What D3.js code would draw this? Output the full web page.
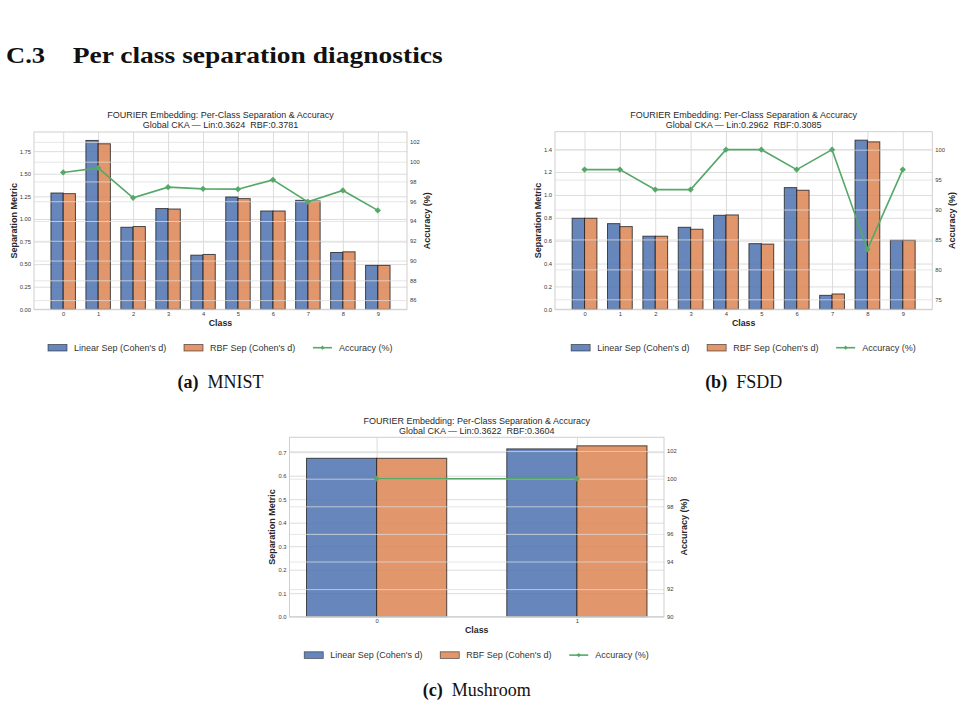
<!DOCTYPE html>
<html><head><meta charset="utf-8">
<script src="https://cdn.jsdelivr.net/npm/d3@7"></script>
<style>body{margin:0;background:#fff}svg{display:block}</style>
</head><body>
<svg id="chart" width="962" height="705"></svg>
<script>
// ---------------- DATA ----------------
const classesMNIST = ["0","1","2","3","4","5","6","7","8","9"];
const linearMNIST  = [1.287, 1.869, 0.908, 1.115, 0.599, 1.243, 1.088, 1.206, 0.629, 0.486];
const rbfMNIST     = [1.280, 1.832, 0.916, 1.110, 0.607, 1.225, 1.088, 1.199, 0.636, 0.486];
const accMNIST     = [98.91, 99.37, 96.34, 97.42, 97.25, 97.22, 98.16, 95.94, 97.09, 95.07];
const leftTicksMNIST  = [0, 0.25, 0.5, 0.75, 1.0, 1.25, 1.5, 1.75];
const rightTicksMNIST = [86, 88, 90, 92, 94, 96, 98, 100, 102];

const classesFSDD = ["0","1","2","3","4","5","6","7","8","9"];
const linearFSDD  = [0.796, 0.749, 0.639, 0.717, 0.822, 0.574, 1.064, 0.122, 1.479, 0.604];
const rbfFSDD     = [0.796, 0.723, 0.639, 0.700, 0.825, 0.570, 1.041, 0.134, 1.464, 0.604];
const accFSDD     = [96.67, 96.67, 93.33, 93.33, 100, 100, 96.67, 100, 83.33, 96.67];
const leftTicksFSDD  = [0, 0.2, 0.4, 0.6, 0.8, 1.0, 1.2, 1.4];
const rightTicksFSDD = [75, 80, 85, 90, 95, 100];

const classesMush = ["0","1"];
const linearMush  = [0.674, 0.714];
const rbfMush     = [0.674, 0.727];
const accMush     = [100, 100];
const leftTicksMush  = [0, 0.1, 0.2, 0.3, 0.4, 0.5, 0.6, 0.7];
const rightTicksMush = [90, 92, 94, 96, 98, 100, 102];

const titleLine1 = "FOURIER Embedding: Per-Class Separation & Accuracy";
const ckaLines = ["Global CKA — Lin:0.3624  RBF:0.3781",
                  "Global CKA — Lin:0.2962  RBF:0.3085",
                  "Global CKA — Lin:0.3622  RBF:0.3604"];
const legendLabels = ["Linear Sep (Cohen's d)", "RBF Sep (Cohen's d)", "Accuracy (%)"];
const captionTags = ["(a)", "(b)", "(c)"];
const captionNames = ["MNIST", "FSDD", "Mushroom"];
const headingNum = "C.3";
const headingText = "Per class separation diagnostics";

// ---------------- STYLE ----------------
const BLUE = "#4C72B0", ORANGE = "#DD8452", GREEN = "#55A868";
const SANS = "'Liberation Sans', Arial, sans-serif";
const SERIF = "'Liberation Serif', 'Times New Roman', serif";
const svg = d3.select("#chart");

svg.append("text").attr("x", 6).attr("y", 63.3)
  .attr("font-family", SERIF).attr("font-weight", "bold").attr("font-size", 24)
  .attr("textLength", 39).attr("lengthAdjust", "spacingAndGlyphs")
  .attr("fill", "#111").text(headingNum);
svg.append("text").attr("x", 72.7).attr("y", 63.3)
  .attr("font-family", SERIF).attr("font-weight", "bold").attr("font-size", 24)
  .attr("textLength", 370).attr("lengthAdjust", "spacingAndGlyphs")
  .attr("fill", "#111").text(headingText);

const panels = [
  {classes: classesMNIST, linear: linearMNIST, rbf: rbfMNIST, acc: accMNIST,
   lt: leftTicksMNIST, rt: rightTicksMNIST, lfmt: ".2f", cka: ckaLines[0], tag: captionTags[0], name: captionNames[0],
   left: 34, right: 407, top: 132, bottom: 309.3, ylabX: 14.3},
  {classes: classesFSDD, linear: linearFSDD, rbf: rbfFSDD, acc: accFSDD,
   lt: leftTicksFSDD, rt: rightTicksFSDD, lfmt: ".1f", cka: ckaLines[1], tag: captionTags[1], name: captionNames[1],
   left: 555, right: 932.3, top: 131.7, bottom: 309.3, ylabX: 538.3},
  {classes: classesMush, linear: linearMush, rbf: rbfMush, acc: accMush,
   lt: leftTicksMush, rt: rightTicksMush, lfmt: ".1f", cka: ckaLines[2], tag: captionTags[2], name: captionNames[2],
   left: 289.5, right: 664, top: 437.3, bottom: 616.7, ylabX: 272.3}
];

function diamond(size){ return d3.symbol().type(d3.symbolSquare).size(size)(); }

function drawPanel(p){
  const g = svg.append("g");
  const n = p.classes.length;
  const span = n - 1 + 0.7;
  const x = d3.scaleLinear().domain([-0.35 - 0.05*span, n - 1 + 0.35 + 0.05*span]).range([p.left, p.right]);
  const maxSep = d3.max(p.linear.concat(p.rbf));
  const yL = d3.scaleLinear().domain([0, maxSep*1.05]).range([p.bottom, p.top]);
  const yR = d3.scaleLinear().domain([d3.min(p.acc) - 10, 103]).range([p.bottom, p.top]);
  const W = p.right - p.left, H = p.bottom - p.top;
  const bw = x(0.35) - x(0);
  const idx = d3.range(n);

  // left horizontal grid
  const gl = g.append("g").attr("transform", `translate(${p.left},0)`)
    .call(d3.axisLeft(yL).tickValues(p.lt).tickSize(-W).tickFormat(""));
  gl.select(".domain").remove();
  gl.selectAll("line").attr("stroke", "#dcdcdc").attr("stroke-width", 1);
  // vertical grid
  const gv = g.append("g").attr("transform", `translate(0,${p.bottom})`)
    .call(d3.axisBottom(x).tickValues(idx).tickSize(-H).tickFormat(""));
  gv.select(".domain").remove();
  gv.selectAll("line").attr("stroke", "#dcdcdc").attr("stroke-width", 1);

  // bars
  g.append("g").selectAll("rect").data(p.linear).join("rect")
    .attr("x", (d,i) => x(i) - bw).attr("y", d => yL(d))
    .attr("width", bw).attr("height", d => yL(0) - yL(d))
    .attr("fill", BLUE).attr("fill-opacity", 0.85)
    .attr("stroke", "#222").attr("stroke-opacity", 0.8).attr("stroke-width", 1);
  g.append("g").selectAll("rect").data(p.rbf).join("rect")
    .attr("x", (d,i) => x(i)).attr("y", d => yL(d))
    .attr("width", bw).attr("height", d => yL(0) - yL(d))
    .attr("fill", ORANGE).attr("fill-opacity", 0.85)
    .attr("stroke", "#222").attr("stroke-opacity", 0.8).attr("stroke-width", 1);

  // right horizontal grid (twin axes, drawn above bars)
  const gr = g.append("g").attr("transform", `translate(${p.right},0)`)
    .call(d3.axisRight(yR).tickValues(p.rt).tickSize(-W).tickFormat(""));
  gr.select(".domain").remove();
  gr.selectAll("line").attr("stroke", "#dddddd").attr("stroke-opacity", 0.75).attr("stroke-width", 1);

  // frame
  g.append("rect").attr("x", p.left).attr("y", p.top).attr("width", W).attr("height", H)
    .attr("fill", "none").attr("stroke", "#cfcfcf").attr("stroke-width", 1);

  // accuracy line
  g.append("path").datum(p.acc)
    .attr("d", d3.line().x((d,i) => x(i)).y(d => yR(d)))
    .attr("fill", "none").attr("stroke", GREEN).attr("stroke-width", 1.6);
  g.append("g").selectAll("path").data(p.acc).join("path")
    .attr("d", diamond(20))
    .attr("transform", (d,i) => `translate(${x(i)},${yR(d)}) rotate(45)`)
    .attr("fill", GREEN);

  // tick labels
  const axL = g.append("g").attr("transform", `translate(${p.left},0)`)
    .call(d3.axisLeft(yL).tickValues(p.lt).tickSize(0).tickPadding(3).tickFormat(d3.format(p.lfmt)));
  const axR = g.append("g").attr("transform", `translate(${p.right},0)`)
    .call(d3.axisRight(yR).tickValues(p.rt).tickSize(0).tickPadding(3).tickFormat(d3.format("d")));
  const axB = g.append("g").attr("transform", `translate(0,${p.bottom})`)
    .call(d3.axisBottom(x).tickValues(idx).tickSize(0).tickPadding(2.5).tickFormat(i => p.classes[i]));
  [axL, axR, axB].forEach(a => {
    a.select(".domain").remove();
    a.attr("font-family", SANS).attr("font-size", 5.8);
    a.selectAll("text").attr("fill", "#3a3a3a");
  });

  const cx = (p.left + p.right) / 2, cy = (p.top + p.bottom) / 2;
  // titles
  g.append("text").attr("x", cx).attr("y", p.top - 16.7).attr("dy", "0.35em")
    .attr("text-anchor", "middle").attr("font-family", SANS).attr("font-size", 9)
    .attr("fill", "#2a2a2a").text(titleLine1);
  g.append("text").attr("x", cx).attr("y", p.top - 6.7).attr("dy", "0.35em")
    .attr("text-anchor", "middle").attr("font-family", SANS).attr("font-size", 9)
    .attr("fill", "#2a2a2a").style("white-space", "pre").text(p.cka);
  // axis labels
  g.append("text").attr("transform", `translate(${p.ylabX},${cy}) rotate(-90)`).attr("dy", "0.35em")
    .attr("text-anchor", "middle").attr("font-family", SANS).attr("font-size", 9).attr("font-weight", "bold")
    .attr("fill", "#262626").text("Separation Metric");
  g.append("text").attr("transform", `translate(${p.right + 20},${cy}) rotate(-90)`).attr("dy", "0.35em")
    .attr("text-anchor", "middle").attr("font-family", SANS).attr("font-size", 9).attr("font-weight", "bold")
    .attr("fill", "#262626").text("Accuracy (%)");
  g.append("text").attr("x", cx).attr("y", p.bottom + 13.5).attr("dy", "0.35em")
    .attr("text-anchor", "middle").attr("font-family", SANS).attr("font-size", 8.8).attr("font-weight", "bold")
    .attr("fill", "#262626").text("Class");

  // legend
  const ly = p.bottom + 38.4;
  const lg = g.append("g");
  const patchX = [cx - 172.5, cx - 36.5];
  const patchCol = [BLUE, ORANGE];
  lg.selectAll("rect").data(patchX).join("rect")
    .attr("x", d => d).attr("y", ly - 3.3).attr("width", 19).attr("height", 6.6)
    .attr("fill", (d,i) => patchCol[i]).attr("fill-opacity", 0.85)
    .attr("stroke", "#222").attr("stroke-opacity", 0.7).attr("stroke-width", 0.8);
  lg.append("line").attr("x1", cx + 92.5).attr("x2", cx + 111.5).attr("y1", ly).attr("y2", ly)
    .attr("stroke", GREEN).attr("stroke-width", 1.6);
  lg.append("path").attr("d", diamond(9))
    .attr("transform", `translate(${cx + 102},${ly}) rotate(45)`).attr("fill", GREEN);
  const textX = [cx - 146.5, cx - 10.5, cx + 118.5];
  lg.selectAll("text").data(legendLabels).join("text")
    .attr("x", (d,i) => textX[i]).attr("y", ly).attr("dy", "0.35em")
    .attr("font-family", SANS).attr("font-size", 9).attr("fill", "#333").text(d => d);

  // caption
  const cap = g.append("text").attr("x", cx).attr("y", p.bottom + 78.8)
    .attr("text-anchor", "middle").attr("font-family", SERIF).attr("font-size", 18)
    .attr("fill", "#111").style("white-space", "pre");
  cap.append("tspan").attr("font-weight", "bold").text(p.tag);
  cap.append("tspan").text("  " + p.name);
}

panels.forEach(drawPanel);
</script>
</body></html>
